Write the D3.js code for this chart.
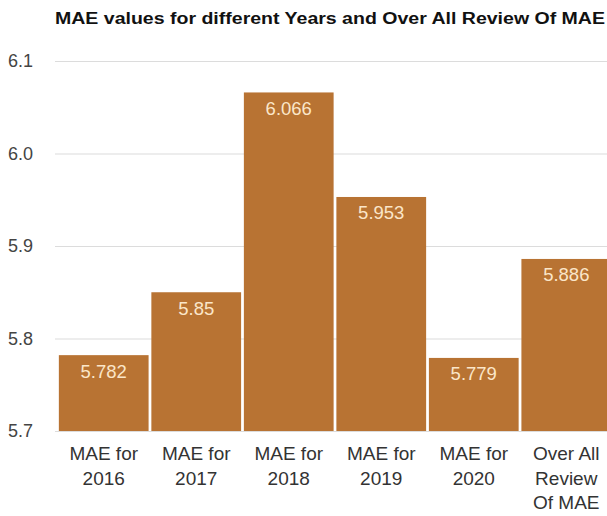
<!DOCTYPE html>
<html>
<head>
<meta charset="utf-8">
<script src="https://cdn.jsdelivr.net/npm/d3@7"></script>
<style>
  html, body { margin: 0; padding: 0; background: #fff; }
  svg { display: block; }
</style>
</head>
<body>
<script>
// MAE per year plus the overall review
const categories = [
  ["MAE for", "2016"],
  ["MAE for", "2017"],
  ["MAE for", "2018"],
  ["MAE for", "2019"],
  ["MAE for", "2020"],
  ["Over All", "Review", "Of MAE"]
];
const maeValues = [5.782, 5.85, 6.066, 5.953, 5.779, 5.886];
const yTicks = [5.7, 5.8, 5.9, 6.0, 6.1];
const yTickLabels = ["5.7", "5.8", "5.9", "6.0", "6.1"];
const title = "MAE values for different Years and Over All Review Of MAE";

const W = 607, H = 516;
const svg = d3.select("body").append("svg").attr("width", W).attr("height", H);
const font = "'Liberation Sans', Arial, sans-serif";

const keys = categories.map((c, i) => i);
const x = d3.scaleBand().domain(keys).range([57, 613]).paddingInner(0.03).paddingOuter(0.02);
const y = d3.scaleLinear().domain([5.7, 6.1]).range([431, 61]);

// title, stretched across the top
svg.append("text")
  .attr("x", 55).attr("y", 24)
  .attr("font-family", font).attr("font-weight", "bold").attr("font-size", 16)
  .attr("textLength", 550).attr("lengthAdjust", "spacingAndGlyphs")
  .attr("fill", "#111")
  .text(title);

// horizontal gridlines
svg.append("g").selectAll("line").data(yTicks).join("line")
  .attr("x1", 55).attr("x2", W)
  .attr("y1", d => y(d) + 0.5).attr("y2", d => y(d) + 0.5)
  .attr("stroke", "#dcdcdc").attr("stroke-width", 1.2);

// y tick labels
svg.append("g").selectAll("text").data(yTicks).join("text")
  .attr("x", 33).attr("y", d => y(d))
  .attr("dy", "0.35em").attr("text-anchor", "end")
  .attr("font-family", font).attr("font-size", 18).attr("fill", "#444")
  .text((d, i) => yTickLabels[i]);

// bars
svg.append("g").selectAll("rect").data(maeValues).join("rect")
  .attr("x", (d, i) => x(i)).attr("width", x.bandwidth())
  .attr("y", d => y(d)).attr("height", d => y(5.7) - y(d))
  .attr("fill", "#b87333");

// value labels inside bars
svg.append("g").selectAll("text").data(maeValues).join("text")
  .attr("x", (d, i) => x(i) + x.bandwidth() / 2)
  .attr("y", d => y(d) + 16)
  .attr("dy", "0.35em").attr("text-anchor", "middle")
  .attr("font-family", font).attr("font-size", 18.5).attr("fill", "#fbe6c9")
  .text(d => String(d));

// category labels
const xl = svg.append("g").selectAll("text").data(categories).join("text")
  .attr("text-anchor", "middle")
  .attr("font-family", font).attr("font-size", 19).attr("fill", "#333")
  .attr("x", (d, i) => x(i) + x.bandwidth() / 2)
  .attr("y", 460);
xl.selectAll("tspan").data(d => d).join("tspan")
  .attr("x", function() { return d3.select(this.parentNode).attr("x"); })
  .attr("dy", (d, j) => j === 0 ? 0 : 24.5)
  .text(d => d);
</script>
</body>
</html>
